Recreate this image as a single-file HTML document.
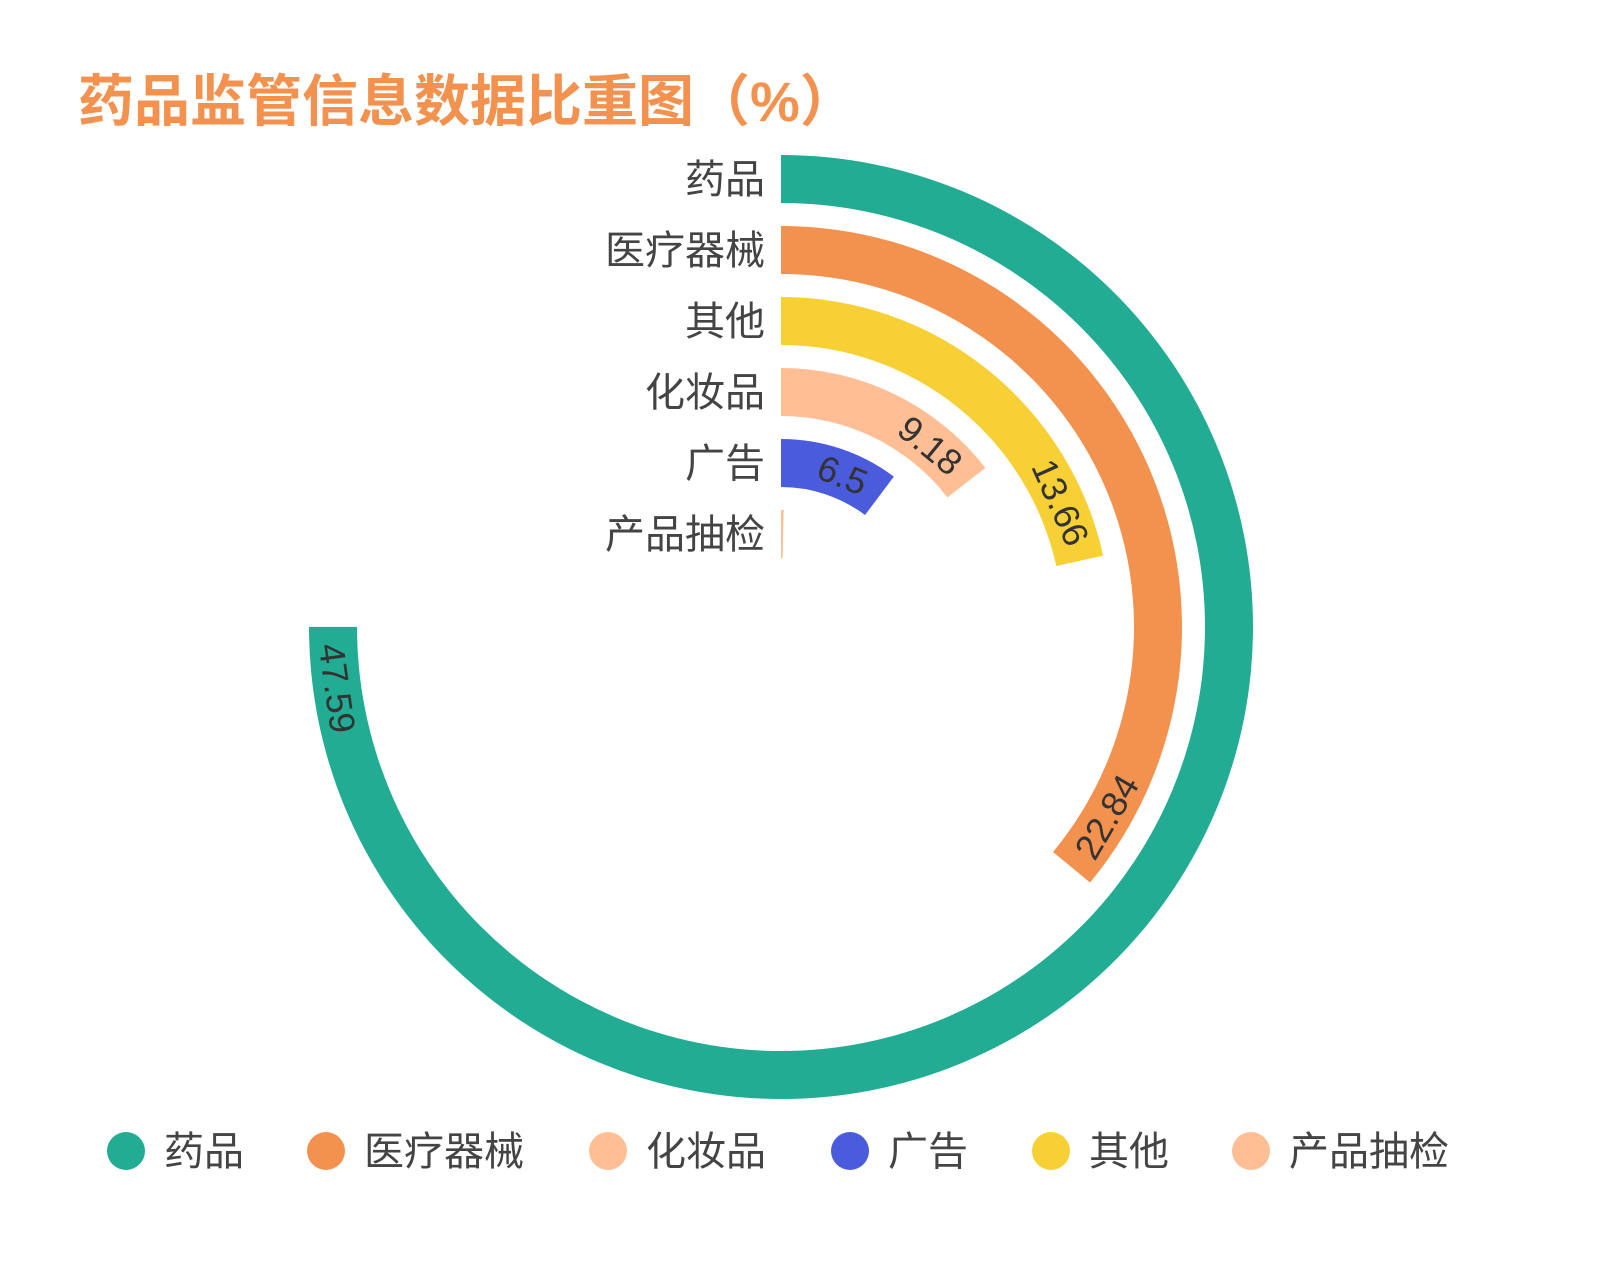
<!DOCTYPE html>
<html><head><meta charset="utf-8"><style>
body{margin:0;background:#fff;}
svg{display:block;font-family:"Liberation Sans","Noto Sans CJK SC",sans-serif;}
</style></head><body>
<svg id="chart" width="1600" height="1280" viewBox="0 0 1600 1280">
<text x="78" y="121" font-size="56" font-weight="bold" fill="#F3924F">药品监管信息数据比重图（%）</text>
<g id="bars"></g><g id="cats"></g><g id="vals"></g><g id="legend"></g>
</svg>
<script>
const categories=["药品","医疗器械","其他","化妆品","广告","产品抽检"];
const values=[47.59,22.84,13.66,9.18,6.5,0.23];
const colors=["#22AC93","#F3924F","#F7D035","#FFBE93","#4A5BDB","#FFBE93"];
const legendNames=["药品","医疗器械","化妆品","广告","其他","产品抽检"];
const legendColors=["#22AC93","#F3924F","#FFBE93","#4A5BDB","#F7D035","#FFBE93"];
const maxVal=63.45;
const cx=781,cy=627;
const NS="http://www.w3.org/2000/svg";
function ang(v){return v/maxVal*2*Math.PI;}
function pt(r,a){return [cx+r*Math.sin(a),cy-r*Math.cos(a)];}
const bars=document.getElementById('bars'),cats=document.getElementById('cats'),vals=document.getElementById('vals'),leg=document.getElementById('legend');
categories.forEach((c,i)=>{
  const ro=472-i*71, ri=ro-48, a=ang(values[i]);
  const large=a>Math.PI?1:0;
  const [x1,y1]=pt(ro,0),[x2,y2]=pt(ro,a),[x3,y3]=pt(ri,a),[x4,y4]=pt(ri,0);
  const p=document.createElementNS(NS,'path');
  p.setAttribute('d',`M${x1},${y1}A${ro},${ro} 0 ${large} 1 ${x2},${y2}L${x3},${y3}A${ri},${ri} 0 ${large} 0 ${x4},${y4}Z`);
  p.setAttribute('fill',colors[i]);
  
  
  bars.appendChild(p);
  const t=document.createElementNS(NS,'text');
  t.setAttribute('x',765);t.setAttribute('y',cy-ro+24+14);
  t.setAttribute('text-anchor','end');t.setAttribute('font-size','40');t.setAttribute('fill','#444');
  t.textContent=c;
  
  
  cats.appendChild(t);
  if(values[i]>=1){
    const s=String(values[i]);
    const len=s.length*19;
    const rm=ro-24;
    const ac=a-(len/2+14)/rm;
    const [lx,ly]=pt(rm,ac);
    const deg=ac*180/Math.PI;
    const rot=ac<Math.PI/2?deg:deg-180;
    const v=document.createElementNS(NS,'text');
    v.setAttribute('x',lx);v.setAttribute('y',ly);
    v.setAttribute('text-anchor','middle');v.setAttribute('dominant-baseline','central');
    v.setAttribute('font-size','36');v.setAttribute('fill','#333');
    v.setAttribute('transform',`rotate(${rot} ${lx} ${ly})`);
    v.textContent=s;
    
    
    vals.appendChild(v);
  }
});
const lx=[126,326,608,850,1051,1251];
legendNames.forEach((n,i)=>{
  const g=document.createElementNS(NS,'g');
  
  
  const c=document.createElementNS(NS,'circle');
  c.setAttribute('cx',lx[i]);c.setAttribute('cy',1151);c.setAttribute('r',19);c.setAttribute('fill',legendColors[i]);
  const t=document.createElementNS(NS,'text');
  t.setAttribute('x',lx[i]+38);t.setAttribute('y',1165);t.setAttribute('font-size','40');t.setAttribute('fill','#444');
  t.textContent=n;
  g.appendChild(c);g.appendChild(t);leg.appendChild(g);
});
</script>
</body></html>
